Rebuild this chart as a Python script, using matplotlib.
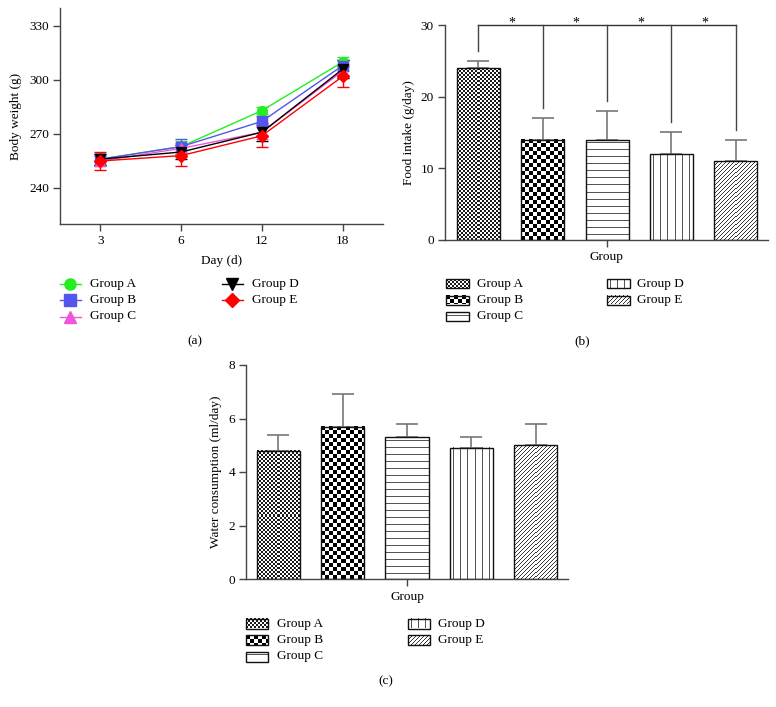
import numpy as np
import matplotlib
matplotlib.use("Agg")
import matplotlib.pyplot as plt
from matplotlib.colors import ListedColormap
from matplotlib.patches import Rectangle

plt.rcParams['font.family'] = ['Liberation Serif', 'DejaVu Serif']
plt.rcParams['font.size'] = 9.5

# ---------------- data ----------------
days = ['3', '6', '12', '18']
groups = ['Group A', 'Group B', 'Group C', 'Group D', 'Group E']

bw_A = [256, 263, 283, 310]
bw_B = [256, 263, 277, 308]
bw_C = [255, 262, 271, 305]
bw_D = [256, 260, 271, 306]
bw_E = [255, 258, 269, 302]
bw_err_A = [3, 3, 2, 3]
bw_err_B = [3, 4, 3, 3]
bw_err_C = [3, 3, 4, 4]
bw_err_D = [3, 4, 5, 5]
bw_err_E = [5, 6, 6, 6]

food = [24, 14, 14, 12, 11]
food_err = [1, 3, 4, 3, 3]

water = [4.8, 5.7, 5.3, 4.9, 5.0]
water_err = [0.6, 1.2, 0.5, 0.4, 0.8]

W, H = 776, 707
fig = plt.figure(figsize=(W / 100, H / 100), dpi=100)


def ax_px(l, t, r, b):
    return fig.add_axes([l / W, 1 - b / H, (r - l) / W, (b - t) / H])


SPINE = '#444444'


def style(ax):
    for s in ['top', 'right']:
        ax.spines[s].set_visible(False)
    for s in ['left', 'bottom']:
        ax.spines[s].set_color(SPINE)
        ax.spines[s].set_linewidth(1.0)
    ax.tick_params(direction='out', length=5, width=1.0, color=SPINE, pad=3,
                   labelsize=9.5)


# ---------------- pattern helpers ----------------
patterns = ['fine', 'checker', 'hline', 'vline', 'diag']
pat_dark = {'fine': '#1a1a1a', 'checker': '#000000', 'hline': '#555555',
            'vline': '#555555', 'diag': '#333333'}


def pattern(kind, w, h):
    w = max(int(round(w)), 1)
    h = max(int(round(h)), 1)
    i, j = np.mgrid[0:h, 0:w]
    if kind == 'fine':
        dark = ((i // 2 + j // 2) % 2 == 0)
    elif kind == 'checker':
        dark = ((i // 4 + j // 4) % 2 == 0)
    elif kind == 'hline':
        dark = (i % 7 == 3)
    elif kind == 'vline':
        dark = (j % 7 == 3)
    else:
        dark = ((i + j) % 4 == 0)
    return np.where(dark, 0, 1)


def fill_pattern(ax, kind, x0, x1, y0, y1):
    p0 = ax.transData.transform((x0, y0))
    p1 = ax.transData.transform((x1, y1))
    w = abs(p1[0] - p0[0])
    h = abs(p1[1] - p0[1])
    arr = pattern(kind, w, h)
    xl, yl = ax.get_xlim(), ax.get_ylim()
    ax.imshow(arr, cmap=ListedColormap([pat_dark[kind], 'white']), vmin=0, vmax=1,
              extent=(x0, x1, y0, y1), interpolation='nearest', aspect='auto',
              zorder=2)
    ax.set_xlim(xl)
    ax.set_ylim(yl)


# ---------------- (a) body weight ----------------
axa = ax_px(60, 8, 383, 224)
style(axa)
xa = np.arange(len(days))
axa.set_xlim(-0.5, 3.5)
axa.set_ylim(220, 340)
series = [
    (bw_A, bw_err_A, '#22ee22', 'o'),
    (bw_B, bw_err_B, '#5555ee', 's'),
    (bw_C, bw_err_C, '#ee55dd', '^'),
    (bw_D, bw_err_D, '#000000', 'v'),
    (bw_E, bw_err_E, '#ff0000', 'D'),
]
for vals, err, col, mk in series:
    axa.errorbar(xa, vals, yerr=err, color=col, lw=1.0, marker=mk,
                 ms=7 if mk != 'D' else 6, capsize=4, capthick=1.0, elinewidth=1.0)
axa.set_xticks(xa)
axa.set_xticklabels(days)
axa.set_yticks([240, 270, 300, 330])
axa.set_ylabel('Body weight (g)', fontsize=9.5)
axa.yaxis.set_label_coords(-0.119, 0.5)

# ---------------- (b) food intake ----------------
axb = ax_px(445, 25, 768, 240)
style(axb)
xb = np.arange(len(groups))
axb.set_xlim(-0.52, 4.5)
axb.set_ylim(0, 30)
bw = 0.67
for k in range(len(groups)):
    fill_pattern(axb, patterns[k], xb[k] - bw / 2, xb[k] + bw / 2, 0, food[k])
axb.errorbar(xb, food, yerr=[np.zeros(len(food)), food_err], fmt='none',
             ecolor='#777777', elinewidth=1.2, capsize=8, capthick=1.2, zorder=2.5)
axb.bar(xb, food, width=bw, facecolor='none', edgecolor='#111111', lw=1.0, zorder=3)
axb.set_xticks([2])
axb.set_xticklabels([''])
axb.set_yticks([0, 10, 20, 30])
axb.set_ylabel('Food intake (g/day)', fontsize=9.5)
axb.yaxis.set_label_coords(-0.093, 0.5)
# significance bracket: group A vs each other group
top_y = 30
drop_gap = 1.4
axb.plot([xb[0], xb[-1]], [top_y, top_y], color='#333333', lw=1.0,
         clip_on=False, zorder=4)
for k in range(len(groups)):
    axb.plot([xb[k], xb[k]], [food[k] + food_err[k] + drop_gap, top_y],
             color='#444444', lw=1.0, clip_on=False, zorder=4)
for k in range(len(groups) - 1):
    axb.text((xb[k] + xb[k + 1]) / 2 + 0.02, top_y - 0.6, '*', ha='center',
             va='bottom', fontsize=10, clip_on=False)

# ---------------- (c) water consumption ----------------
axc = ax_px(246, 365, 568, 579)
style(axc)
xc = np.arange(len(groups))
axc.set_xlim(-0.5, 4.5)
axc.set_ylim(0, 8)
for k in range(len(groups)):
    fill_pattern(axc, patterns[k], xc[k] - bw / 2, xc[k] + bw / 2, 0, water[k])
axc.errorbar(xc, water, yerr=[np.zeros(len(water)), water_err], fmt='none',
             ecolor='#777777', elinewidth=1.2, capsize=8, capthick=1.2, zorder=2.5)
axc.bar(xc, water, width=bw, facecolor='none', edgecolor='#111111', lw=1.0, zorder=3)
axc.set_xticks([2])
axc.set_xticklabels([''])
axc.set_yticks([0, 2, 4, 6, 8])
axc.set_ylabel('Water consumption (ml/day)', fontsize=9.5)
axc.yaxis.set_label_coords(-0.075, 0.5)

# ---------------- overlay for legends / captions ----------------
ov = fig.add_axes([0, 0, 1, 1], zorder=-1)
ov.set_xlim(0, W)
ov.set_ylim(H, 0)
ov.axis('off')

def txt(x, y, s, ha='left'):
    ov.text(x, y, s, ha=ha, va='center', fontsize=9.5)

# x labels & captions
txt(221.5, 261, 'Day (d)', 'center')
txt(194.5, 341.5, '(a)', 'center')
txt(606.5, 257, 'Group', 'center')
txt(582.5, 341.5, '(b)', 'center')
txt(407.5, 597, 'Group', 'center')
txt(386, 681, '(c)', 'center')

# legend (a)
rows = [283.5, 300, 316.5]
pos_a = [(0, 0), (0, 1), (0, 2), (1, 0), (1, 1)]
cols_a = [(60, 70, 81, 90), (222, 232, 243, 252)]
for (vals, err, col, mk), g, (c, r) in zip(series, groups, pos_a):
    x0, xm, x1, xt = cols_a[c]
    y = rows[r]
    ov.plot([x0, x1], [y, y], color=col, lw=1.0)
    ov.plot([xm], [y], marker=mk, color=col, ms=8 if mk != 'D' else 7, ls='none')
    txt(xt, y, g)


def swatch_legend(cols, rows_y, sw_w, sw_h):
    for k, g in enumerate(groups):
        c, r = pos_a[k]
        x0, xt = cols[c]
        y = rows_y[r]
        arr = pattern(patterns[k], sw_w, sw_h)
        ov.imshow(arr, cmap=ListedColormap([pat_dark[patterns[k]], 'white']),
                  vmin=0, vmax=1, extent=(x0, x0 + sw_w, y + sw_h / 2, y - sw_h / 2),
                  interpolation='nearest', aspect='auto')
        ov.add_patch(Rectangle((x0, y - sw_h / 2), sw_w, sw_h, fill=False,
                               edgecolor='#111111', lw=1.0))
        txt(xt, y, g)
    ov.set_xlim(0, W)
    ov.set_ylim(H, 0)

swatch_legend([(446, 477), (607, 637)], [283.5, 300, 316.5], 23, 9)
swatch_legend([(246, 277), (407.5, 437.5)], [623.5, 640, 656.5], 22, 10)

fig.savefig('out.png', dpi=100)
